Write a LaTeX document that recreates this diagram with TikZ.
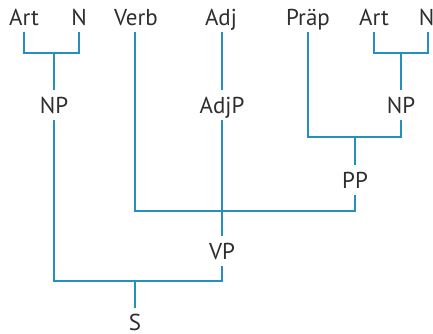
\documentclass[tikz,border=0pt]{standalone}
\usepackage{fontspec}
\setmainfont{PT Sans}
\definecolor{branch}{HTML}{2590C0}
\definecolor{ink}{HTML}{2E2E2E}
\begin{document}
\begin{tikzpicture}[x=1pt,y=-1pt,
  cat/.style={font=\fontsize{23}{26}\selectfont, text=ink, anchor=base,
    text height=15.5pt, text depth=0pt, inner xsep=0pt, inner ysep=7pt},
  edge/.style={draw=branch, line width=1.3pt}]
\useasboundingbox (0,0) rectangle (433,333);
% word row
\node[cat] (art1) at (24,25) {Art};
\node[cat] (n1)   at (79,25) {N};
\node[cat] (verb) at (136,25) {Verb};
\node[cat] (adj)  at (221,25) {Adj};
\node[cat] (prep) at (308,25) {Präp};
\node[cat] (art2) at (374,25) {Art};
\node[cat] (n2)   at (426.5,25) {N};
% phrases
\node[cat] (np1)  at (54,113) {NP};
\node[cat] (adjp) at (222,113) {AdjP};
\node[cat] (np2)  at (401,113) {NP};
\node[cat] (pp)   at (355,188) {PP};
\node[cat] (vp)   at (222,259) {VP};
\node[cat] (s)    at (135,330.5) {S};
% branching points
\coordinate (j1) at (54,53);
\coordinate (j2) at (401,53);
\coordinate (j3) at (355,137);
\coordinate (j4) at (222,211);
\coordinate (j5) at (135,281);
% branches
\draw[edge] (art1.south) |- (j1) -| (n1.south);
\draw[edge] (j1) -- (np1.north);
\draw[edge] (art2.south) |- (j2) -| ([xshift=1.5pt]n2.south);
\draw[edge] (j2) -- (np2.north);
\draw[edge] (adj.south -| adjp.north) -- (adjp.north);
\draw[edge] (prep.south) |- (j3) -| (np2.south);
\draw[edge] (j3) -- (pp.north);
\draw[edge] ([xshift=-1pt]verb.south) |- (j4) -| (pp.south);
\draw[edge] (adjp.south) -- (vp.north);
\draw[edge] (np1.south) |- (j5) -| (vp.south);
\draw[edge] (j5) -- (s.north);
\end{tikzpicture}
\end{document}
